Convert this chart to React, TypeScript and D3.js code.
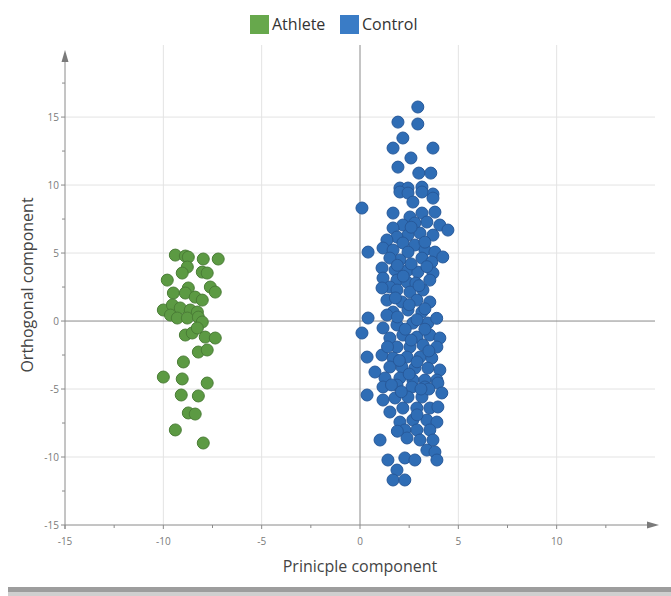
import React, { useEffect, useRef } from 'react';
import * as d3 from 'd3';

// group names for the legend
const groups = ['Athlete', 'Control'];

// Athlete scores [principle, orthogonal]
const athlete: [number, number][] = [
  [-9.39, 4.85], [-8.88, 4.78], [-8.73, 4.7], [-7.97, 4.56], [-7.21, 4.56],
  [-8.78, 3.97], [-9.04, 3.53], [-8.02, 3.6], [-7.77, 3.53], [-9.8, 3.01],
  [-7.61, 2.5], [-7.36, 2.13], [-9.49, 2.06], [-8.73, 2.43], [-8.88, 2.06],
  [-8.38, 1.76], [-8.02, 1.54], [-10.0, 0.81], [-9.54, 1.18], [-9.14, 0.96],
  [-8.63, 0.81], [-8.27, 0.66], [-9.64, 0.44], [-9.29, 0.22], [-8.78, 0.22],
  [-8.22, 0.29], [-8.02, -0.07], [-8.88, -1.03], [-8.53, -0.88], [-8.27, -0.51],
  [-7.87, -1.18], [-7.36, -1.25], [-8.22, -2.28], [-7.77, -2.13], [-8.98, -3.01],
  [-10.0, -4.12], [-9.04, -4.26], [-7.77, -4.56], [-9.09, -5.44], [-8.22, -5.51],
  [-8.73, -6.76], [-8.38, -6.84], [-9.39, -8.01], [-7.97, -8.97],
];

// Control scores [principle, orthogonal]
const control: [number, number][] = [
  [2.94, 15.74], [1.93, 14.63], [2.94, 14.49], [2.18, 13.46], [1.68, 12.72],
  [3.71, 12.72], [2.59, 11.99], [1.93, 11.32], [2.99, 10.88], [3.6, 10.88],
  [2.03, 9.78], [2.44, 9.78], [3.15, 9.85], [3.71, 9.34], [0.1, 8.31],
  [2.03, 9.49], [2.44, 9.41], [3.15, 9.49], [3.71, 9.04], [2.69, 8.75],
  [1.68, 7.94], [2.54, 7.65], [3.15, 7.94], [3.81, 8.01], [3.4, 7.28],
  [2.79, 7.21], [2.18, 7.06], [1.68, 6.84], [4.06, 7.06], [4.47, 6.69],
  [3.71, 6.32], [3.05, 6.47], [2.44, 6.32], [1.88, 6.18], [1.37, 5.96],
  [2.18, 5.74], [2.79, 5.59], [0.41, 5.07], [1.17, 5.37], [1.68, 5.22],
  [2.44, 5.07], [3.3, 5.22], [3.81, 5.07], [4.21, 4.71], [3.15, 4.63],
  [3.65, 4.34], [2.03, 4.49], [1.52, 4.63], [1.12, 3.9], [1.78, 3.75],
  [2.44, 3.75], [2.94, 3.6], [3.71, 3.53], [1.17, 3.16], [1.88, 3.01],
  [2.39, 2.87], [2.84, 2.79], [3.55, 3.01], [1.52, 2.5], [1.12, 2.43],
  [1.88, 2.28], [2.54, 2.13], [3.2, 2.28], [1.37, 1.54], [2.13, 1.4],
  [2.89, 1.54], [3.55, 1.4], [1.68, 0.66], [2.44, 0.81], [3.15, 0.66],
  [0.41, 0.22], [1.37, 0.44], [0.1, -0.88], [1.17, -0.51], [1.88, -0.29],
  [2.69, -0.15], [3.45, -0.15], [1.52, -1.25], [2.18, -1.03], [2.89, -1.18],
  [3.55, -1.03], [4.06, -1.25], [1.88, -1.91], [2.54, -1.91], [3.2, -1.76],
  [3.91, -1.91], [0.36, -2.65], [1.12, -2.5], [1.68, -2.72], [2.39, -2.65],
  [3.05, -2.65], [3.65, -2.72], [0.76, -3.75], [1.52, -3.38], [2.13, -3.38],
  [2.79, -3.46], [3.45, -3.46], [4.06, -3.6], [1.27, -4.19], [2.03, -4.19],
  [2.69, -4.34], [3.3, -4.34], [3.91, -4.34], [0.36, -5.44], [1.17, -4.85],
  [1.88, -4.71], [2.64, -4.85], [3.3, -4.85], [3.96, -4.56], [4.16, -5.29],
  [1.17, -5.81], [1.78, -5.66], [2.44, -5.59], [3.15, -5.59], [1.52, -6.69],
  [2.18, -6.4], [2.89, -6.4], [3.55, -6.4], [3.96, -6.32], [2.03, -7.43],
  [2.69, -7.28], [3.4, -7.28], [3.91, -7.43], [2.28, -8.01], [2.89, -8.01],
  [3.55, -8.01], [1.02, -8.75], [2.39, -8.6], [3.05, -8.75], [3.71, -8.75],
  [3.4, -9.49], [3.81, -9.63], [1.42, -10.22], [2.28, -10.07], [2.79, -10.22],
  [3.91, -10.22], [1.88, -10.96], [1.68, -11.69], [2.28, -11.69],
  [2.6, 6.9], [3.3, 5.8], [1.9, 4.1], [2.6, 4.2], [3.4, 4.0], [2.2, 3.3],
  [3.0, 2.6], [1.8, 1.7], [2.5, 1.2], [3.3, 0.9], [1.9, 0.3], [2.9, 0.1],
  [3.9, 0.2], [2.3, -0.6], [3.3, -0.6], [1.4, -1.9], [2.6, -1.4], [3.5, -2.2],
  [2.0, -2.9], [2.9, -3.0], [1.6, -4.7], [2.5, -3.9], [3.5, -5.0], [2.1, -5.2],
  [2.9, -6.9], [3.1, -5.0], [1.9, -8.1],
];

const xTicks = [-15, -10, -5, 0, 5, 10];
const yTicks = [-15, -10, -5, 0, 5, 10, 15];

export default function App() {
  const ref = useRef<SVGSVGElement>(null);

  useEffect(() => {
    const width = 671;
    const height = 596;
    const font = "'Open Sans', 'Noto Sans', sans-serif";
    const svg = d3.select(ref.current);
    svg.selectAll('*').remove();

    const x = d3.scaleLinear().domain([-15, 15]).range([65, 655]);
    const y = d3.scaleLinear().domain([-15, 20.3]).range([525, 45]);

    // grid
    const grid = svg.append('g');
    grid.selectAll('line.vx')
      .data(xTicks.filter(d => d !== -15 && d !== 0))
      .enter().append('line')
      .attr('x1', d => x(d)).attr('x2', d => x(d))
      .attr('y1', y(20.3)).attr('y2', y(-15))
      .attr('stroke', '#e3e3e3');
    grid.selectAll('line.hy')
      .data(yTicks.filter(d => d !== -15 && d !== 0))
      .enter().append('line')
      .attr('x1', x(-15)).attr('x2', x(15))
      .attr('y1', d => y(d)).attr('y2', d => y(d))
      .attr('stroke', '#e3e3e3');

    // origin lines
    grid.append('line')
      .attr('x1', x(-15)).attr('x2', x(15))
      .attr('y1', y(0)).attr('y2', y(0))
      .attr('stroke', '#8a8a8a');
    grid.append('line')
      .attr('x1', x(0)).attr('x2', x(0))
      .attr('y1', y(20.3)).attr('y2', y(-15))
      .attr('stroke', '#8a8a8a');

    // axes
    const axis = svg.append('g').attr('stroke', '#8a8a8a');
    axis.append('line')
      .attr('x1', x(-15)).attr('x2', 650)
      .attr('y1', y(-15)).attr('y2', y(-15));
    axis.append('line')
      .attr('x1', x(-15)).attr('x2', x(-15))
      .attr('y1', 56).attr('y2', y(-15) + 4);
    svg.append('path')
      .attr('d', `M${659},${y(-15)} L${647},${y(-15) - 3.5} L${647},${y(-15) + 3.5} Z`)
      .attr('fill', '#7a7a7a');
    svg.append('path')
      .attr('d', `M${x(-15)},${50} L${x(-15) - 3.5},${62} L${x(-15) + 3.5},${62} Z`)
      .attr('fill', '#7a7a7a');

    const minorX = d3.range(-15, 15, 2.5);
    axis.selectAll('line.tx')
      .data(minorX)
      .enter().append('line')
      .attr('x1', d => x(d)).attr('x2', d => x(d))
      .attr('y1', y(-15)).attr('y2', d => y(-15) + (d % 5 === 0 ? 4 : 3));
    const minorY = d3.range(-15, 20, 2.5);
    axis.selectAll('line.ty')
      .data(minorY)
      .enter().append('line')
      .attr('y1', d => y(d)).attr('y2', d => y(d))
      .attr('x1', x(-15)).attr('x2', d => x(-15) - (d % 5 === 0 ? 4 : 3));

    svg.append('g').selectAll('text')
      .data(xTicks)
      .enter().append('text')
      .attr('x', d => x(d)).attr('y', y(-15) + 20)
      .attr('text-anchor', 'middle')
      .style('font-family', font).style('font-size', '10px')
      .attr('fill', '#7a7a7a')
      .text(d => d);
    svg.append('g').selectAll('text')
      .data(yTicks)
      .enter().append('text')
      .attr('x', x(-15) - 6).attr('y', d => y(d) + 3.5)
      .attr('text-anchor', 'end')
      .style('font-family', font).style('font-size', '10px')
      .attr('fill', '#7a7a7a')
      .text(d => d);

    // titles
    svg.append('text')
      .attr('x', x(0)).attr('y', 572)
      .attr('text-anchor', 'middle')
      .style('font-family', font).style('font-size', '16px')
      .attr('fill', '#444')
      .text('Prinicple component');
    svg.append('text')
      .attr('transform', `translate(33,285) rotate(-90)`)
      .attr('text-anchor', 'middle')
      .style('font-family', font).style('font-size', '16px')
      .attr('fill', '#444')
      .text('Orthogonal component');

    // points
    const color = d3.scaleOrdinal<string, string>().domain(groups).range(['#5c9a43', '#2f6db5']);
    const edge = d3.scaleOrdinal<string, string>().domain(groups).range(['#4a7d36', '#27599a']);
    const sets: [string, [number, number][]][] = [['Athlete', athlete], ['Control', control]];
    sets.forEach(([g, pts]) => {
      svg.append('g').selectAll('circle')
        .data(pts)
        .enter().append('circle')
        .attr('cx', d => x(d[0]))
        .attr('cy', d => y(d[1]))
        .attr('r', 6)
        .attr('fill', color(g))
        .attr('stroke', edge(g))
        .attr('stroke-width', 1);
    });

    // legend
    const legend = svg.append('g');
    const legendX = [250, 340];
    groups.forEach((g, i) => {
      legend.append('rect')
        .attr('x', legendX[i]).attr('y', 15)
        .attr('width', 19).attr('height', 19)
        .attr('fill', i === 0 ? '#67a84c' : '#3a7cc6');
      legend.append('text')
        .attr('x', legendX[i] + 22).attr('y', 30)
        .style('font-family', font).style('font-size', '16px')
        .attr('fill', '#333')
        .text(g);
    });

    // bottom bar
    svg.append('rect').attr('x', 8).attr('y', 587).attr('width', width - 8).attr('height', 5).attr('fill', '#9d9d9d');
    svg.append('rect').attr('x', 8).attr('y', 592).attr('width', width - 8).attr('height', height - 592).attr('fill', '#cfcfcf');
  }, []);

  return (
    <div style={{ position: 'fixed', left: 0, top: 0 }}>
      <svg ref={ref} width={671} height={596} style={{ display: 'block', background: '#fff' }} />
    </div>
  );
}
